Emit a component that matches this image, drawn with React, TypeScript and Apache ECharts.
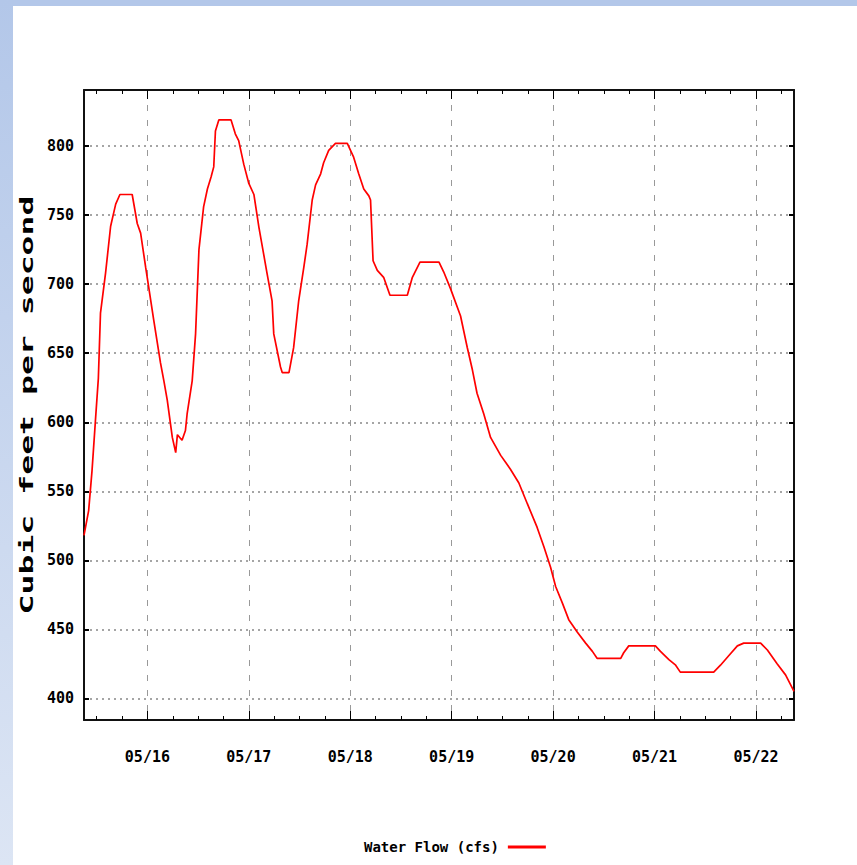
import React, { useEffect, useRef } from 'react';
import * as echarts from 'echarts';

// Hours since 05/15 00:00 and water flow readings (cfs)
const hours = [
  9.0, 10.1, 10.9, 11.7, 12.4, 12.9, 14.1, 15.3, 16.5, 17.5,
  20.4, 21.6, 22.4, 23.6, 24.3, 25.5, 27.1, 27.9, 28.7, 29.9,
  30.7, 31.1, 32.2, 33.0, 33.4, 34.6, 35.4, 36.2, 37.3, 38.2,
  39.1, 39.7, 40.1, 40.9, 43.8, 44.8, 45.6, 46.8, 48.0, 49.2,
  50.4, 51.5, 52.3, 53.5, 53.9, 55.5, 55.9, 57.5, 58.6, 59.8,
  61.0, 61.8, 63.0, 63.8, 65.0, 65.7, 66.9, 68.5, 71.3, 72.8,
  74.0, 75.2, 76.4, 76.8, 77.4, 78.4, 79.9, 81.4, 85.5, 86.7,
  88.5, 93.0, 94.1, 95.7, 98.1, 99.7, 100.9, 102.0, 103.6, 105.2,
  107.6, 109.9, 111.9, 113.9, 116.2, 117.8, 119.4, 120.6, 122.2, 123.7,
  125.7, 127.7, 129.3, 130.4, 136.0, 136.7, 137.9, 144.2, 145.4, 147.4,
  149.0, 150.1, 158.0, 159.6, 161.6, 163.6, 165.1, 169.1, 170.7, 173.0,
  175.0, 177.0,
];
const flowCfs = [
  518, 536, 565, 601, 632, 679, 708, 742, 758, 765,
  765, 744, 737, 712, 698, 674, 643, 630, 616, 589,
  578, 591, 587, 594, 606, 630, 664, 725, 756, 769,
  778, 785, 811, 819, 819, 809, 804, 787, 773, 765,
  741, 722, 708, 688, 664, 640, 636, 636, 654, 688,
  712, 729, 761, 772, 780, 788, 797, 802, 802, 792,
  780, 769, 764, 761, 717, 710, 705, 692, 692, 705,
  716, 716, 709, 697, 677, 654, 638, 621, 606, 589,
  576, 566, 556, 541, 524, 510, 495, 481, 469, 457,
  448, 440, 434, 429, 429, 433, 438, 438, 434, 428,
  424, 419, 419, 424, 431, 438, 440, 440, 435, 425,
  417, 405,
];
const dayLabels = ['05/16', '05/17', '05/18', '05/19', '05/20', '05/21', '05/22'];
const yTickValues = [400, 450, 500, 550, 600, 650, 700, 750, 800];
const seriesName = 'Water Flow (cfs)';
const yTitle = 'Cubic feet per second';

const X_MIN = 0.375; // 05/15 09:00 in days
const X_MAX = 7.375; // 05/22 09:00 in days
const Y_MIN = 384.3;
const Y_MAX = 840.7;

const LABEL_FONT = "'DejaVu Sans Mono', 'Liberation Mono', monospace";

export default function App() {
  const ref = useRef<HTMLDivElement>(null);

  useEffect(() => {
    if (!ref.current) return;
    const chart = echarts.init(ref.current, undefined, { renderer: 'svg' });

    const majorDays = dayLabels.map((_, i) => i + 1);
    const minorDays: number[] = [];
    for (let d = 0; d <= 7; d++) {
      [0.25, 0.5, 0.75].forEach((q) => {
        const v = d + q;
        if (v > X_MIN && v < X_MAX) minorDays.push(v);
      });
    }

    const data = hours.map((h, i) => [h / 24, flowCfs[i]]);

    const xLabelFormatter = (v: number) => {
      const r = Math.round(v);
      if (Math.abs(v - r) < 1e-6 && r >= 1 && r <= dayLabels.length) return dayLabels[r - 1];
      return '';
    };
    const yLabelFormatter = (v: number) => {
      const r = Math.round(v);
      if (Math.abs(v - r) < 1e-6 && r % 50 === 0) return String(r);
      return '';
    };

    const boxLine = { show: true, onZero: false, lineStyle: { color: '#111', width: 2 } };
    const labelText = { fontFamily: LABEL_FONT, fontWeight: 'bold', fontSize: 15, color: '#000' };

    chart.setOption({
      animation: false,
      backgroundColor: '#ffffff',
      grid: { left: 84, top: 90, width: 710, height: 630, containLabel: false },
      legend: {
        data: [{ name: seriesName, icon: 'rect' }],
        left: 359,
        top: 835,
        align: 'right',
        itemWidth: 38,
        itemHeight: 3,
        textStyle: { ...labelText, fontSize: 14, padding: [0, 4, 0, 0] },
      },
      xAxis: [
        {
          type: 'value', position: 'bottom', min: X_MIN, max: X_MAX, splitNumber: 7,
          axisLine: boxLine,
          axisTick: { show: true, inside: true, length: 9, customValues: majorDays, lineStyle: { color: '#000', width: 1 } },
          axisLabel: { ...labelText, formatter: xLabelFormatter, margin: 29, showMinLabel: false, showMaxLabel: false },
          splitLine: { show: true, lineStyle: { type: [6, 9], color: '#999', width: 1 } },
        },
        {
          type: 'value', position: 'bottom', min: X_MIN, max: X_MAX,
          axisLine: { show: false, onZero: false },
          axisTick: { show: true, inside: true, length: 4, customValues: minorDays, lineStyle: { color: '#000', width: 1 } },
          axisLabel: { show: false },
          splitLine: { show: false },
        },
        {
          type: 'value', position: 'top', min: X_MIN, max: X_MAX,
          axisLine: boxLine,
          axisTick: { show: true, inside: true, length: 9, customValues: majorDays, lineStyle: { color: '#000', width: 1 } },
          axisLabel: { show: false },
          splitLine: { show: false },
        },
        {
          type: 'value', position: 'top', min: X_MIN, max: X_MAX,
          axisLine: { show: false, onZero: false },
          axisTick: { show: true, inside: true, length: 4, customValues: minorDays, lineStyle: { color: '#000', width: 1 } },
          axisLabel: { show: false },
          splitLine: { show: false },
        },
      ],
      yAxis: [
        {
          type: 'value', position: 'left', min: Y_MIN, max: Y_MAX, splitNumber: 9,
          axisLine: boxLine,
          axisTick: { show: true, inside: true, length: 5, customValues: yTickValues, lineStyle: { color: '#000', width: 2 } },
          axisLabel: { ...labelText, formatter: yLabelFormatter, margin: 10, showMinLabel: false, showMaxLabel: false },
          splitLine: { show: true, lineStyle: { type: [2, 4], color: '#888', width: 1.5 } },
        },
        {
          type: 'value', position: 'right', min: Y_MIN, max: Y_MAX,
          axisLine: boxLine,
          axisTick: { show: true, inside: true, length: 5, customValues: yTickValues, lineStyle: { color: '#000', width: 2 } },
          axisLabel: { show: false },
          splitLine: { show: false },
        },
      ],
      series: [
        {
          name: seriesName,
          type: 'line',
          xAxisIndex: 0,
          yAxisIndex: 0,
          data,
          symbol: 'none',
          showSymbol: false,
          lineStyle: { color: '#ff0000', width: 1.7 },
          itemStyle: { color: '#ff0000' },
        },
      ],
      graphic: [
        {
          type: 'rect', z: -10, silent: true,
          shape: { x: 0, y: 0, width: 857, height: 6 },
          style: { fill: '#b3c7e9' },
        },
        {
          type: 'rect', z: -10, silent: true,
          shape: { x: 0, y: 0, width: 13, height: 865 },
          style: {
            fill: new echarts.graphic.LinearGradient(0, 0, 0, 1, [
              { offset: 0, color: '#b3c7e9' },
              { offset: 1, color: '#dce5f4' },
            ]),
          },
        },
        {
          type: 'text', silent: true,
          x: 27, y: 405,
          rotation: Math.PI / 2,
          scaleX: 1.95,
          style: {
            text: yTitle,
            fontFamily: "'DejaVu Sans Mono', monospace",
            fontWeight: 'bold',
            fontSize: 17,
            fill: '#000',
            align: 'center',
            verticalAlign: 'middle',
          },
        },
      ],
    });

    return () => chart.dispose();
  }, []);

  return (
    <div
      ref={ref}
      style={{ position: 'fixed', left: 0, top: 0, width: 857, height: 865, background: '#fff' }}
    />
  );
}
